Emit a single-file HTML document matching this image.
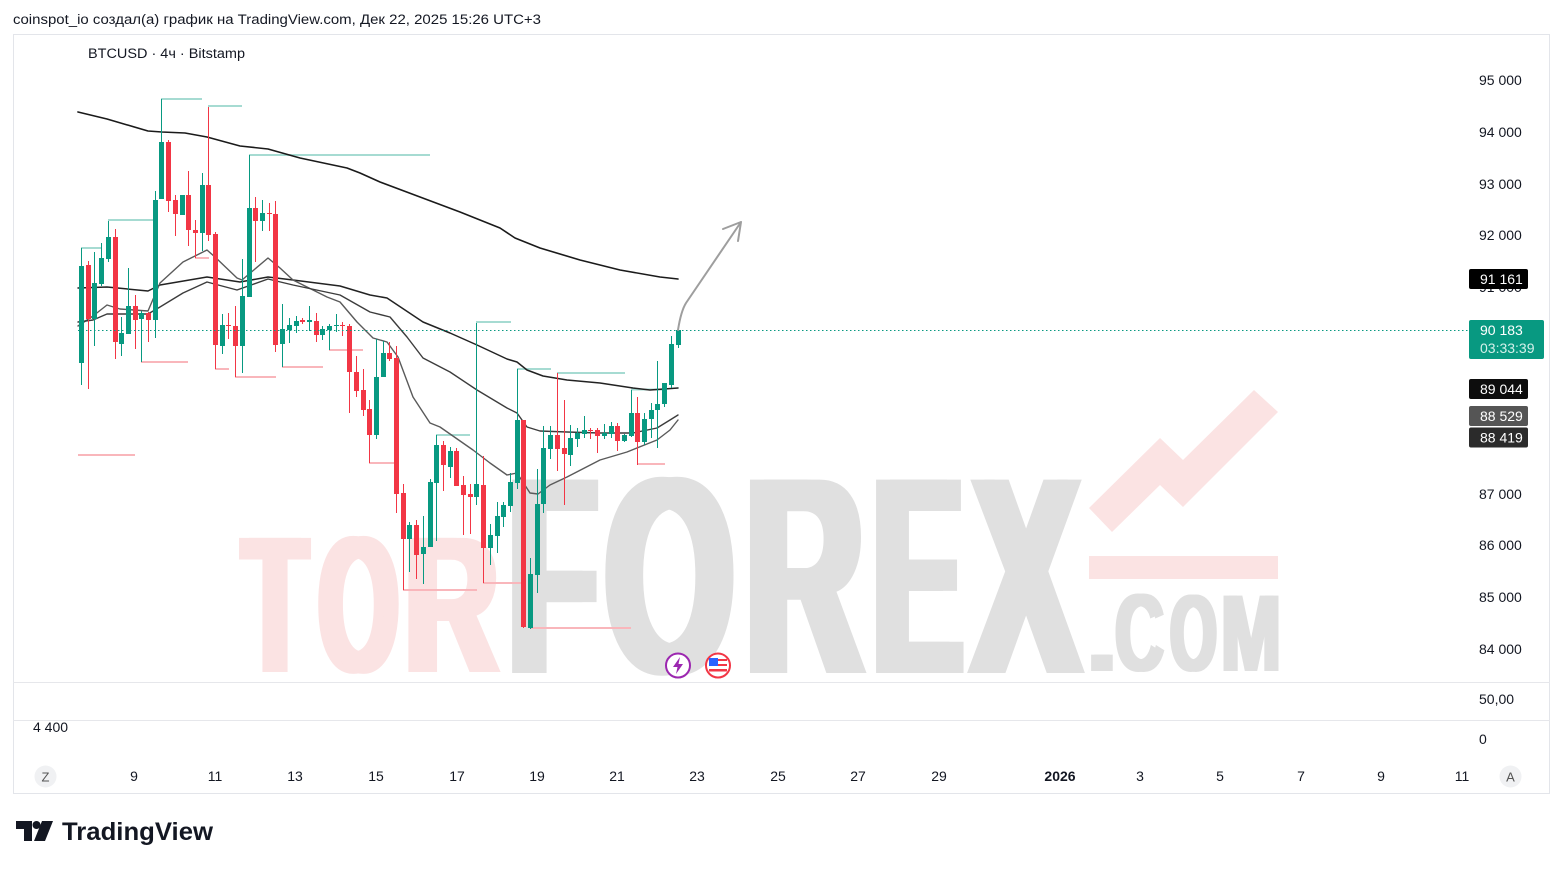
<!DOCTYPE html>
<html>
<head>
<meta charset="utf-8">
<style>
html,body{margin:0;padding:0;background:#fff;}
svg{display:block;}
text{font-family:"Liberation Sans","Noto Sans CJK SC",sans-serif;}
</style>
</head>
<body>
<svg width="1563" height="869" viewBox="0 0 1563 869" xmlns="http://www.w3.org/2000/svg">
<rect x="0" y="0" width="1563" height="869" fill="#fff"/>

<!-- header -->
<text x="13" y="24" font-size="13.5" fill="#131722" textLength="528" lengthAdjust="spacingAndGlyphs">coinspot_io создал(а) график на TradingView.com, Дек 22, 2025 15:26 UTC+3</text>

<!-- frame -->
<rect x="13.5" y="34.5" width="1536" height="759" fill="none" stroke="#e3e5ea" stroke-width="1"/>
<line x1="13" y1="682.5" x2="1550" y2="682.5" stroke="#e6e7eb" stroke-width="1"/>
<line x1="13" y1="720.5" x2="1550" y2="720.5" stroke="#e6e7eb" stroke-width="1"/>

<text x="88" y="58" font-size="13.5" fill="#131722" textLength="157" lengthAdjust="spacingAndGlyphs">BTCUSD · 4ч · Bitstamp</text>

<!-- watermark -->
<g font-weight="bold" text-anchor="middle">
  <g fill="#fbe3e3" font-size="195">
    <text transform="translate(270,672) scale(0.54,1)">T</text>
    <text transform="translate(280,672) scale(0.54,1)">T</text>
    <text transform="translate(353.5,672) scale(0.52,1)">O</text>
    <text transform="translate(363.5,672) scale(0.52,1)">O</text>
    <text transform="translate(446.5,672) scale(0.664,1)">R</text>
    <text transform="translate(456.5,672) scale(0.664,1)">R</text>
  </g>
  <g fill="#e0e0e0" font-size="281">
    <text transform="translate(546,673) scale(0.505,1)">F</text>
    <text transform="translate(560,673) scale(0.505,1)">F</text>
    <text transform="translate(662.5,673) scale(0.585,1)">O</text>
    <text transform="translate(676.5,673) scale(0.585,1)">O</text>
    <text transform="translate(797.5,673) scale(0.575,1)">R</text>
    <text transform="translate(811.5,673) scale(0.575,1)">R</text>
    <text transform="translate(911,673) scale(0.466,1)">E</text>
    <text transform="translate(925,673) scale(0.466,1)">E</text>
    <text transform="translate(1019,673) scale(0.569,1)">X</text>
    <text transform="translate(1033,673) scale(0.569,1)">X</text>
  </g>
  <g fill="#e0e0e0" font-size="110">
    <text transform="translate(1100.5,671) scale(1.2,1)">.</text>
    <text transform="translate(1103.5,671) scale(1.2,1)">.</text>
    <text transform="translate(1137,671) scale(0.61,1)">C</text>
    <text transform="translate(1142,671) scale(0.61,1)">C</text>
    <text transform="translate(1191,671) scale(0.545,1)">O</text>
    <text transform="translate(1196,671) scale(0.545,1)">O</text>
    <text transform="translate(1248.5,671) scale(0.65,1)">M</text>
    <text transform="translate(1253.5,671) scale(0.65,1)">M</text>
  </g>
</g>
<rect x="1089" y="556" width="189" height="23" fill="#fbe3e3"/>
<polygon points="1089,508 1160,438 1183,460 1254,390 1278,412 1183,507 1160,485 1112,532" fill="#fbe3e3"/>

<!-- pivot lines -->
<path d="M81 248H102M108 220H155M161 99H202M208 106H242M249 155H430M476 322H511M517 369H551M557 373H625M436 435H470M631 389.5H665" stroke="#a6dbd2" stroke-width="2" fill="none"/>
<path d="M78 455H135M141 362H188M195 258H209M215 369H229M235 377H276M282 367H323M329 350H363M369 463H396M403 590H477M483 583H523M530 628H631M637 464H665" stroke="#f9b6bb" stroke-width="2" fill="none"/>

<!-- moving averages -->
<g fill="none" stroke-linejoin="round" stroke-linecap="round">
<polyline stroke="#1a1a1a" stroke-width="1.6" points="78,112 107,119 148,131 162,132 185,133 207,137 240,146 268,149 300,158 347,168 360,173 380,182 420,197 460,212 500,228 515,238 540,248 580,260 620,270 660,277 678,279"/>
<polyline stroke="#222" stroke-width="1.5" points="78,288 107,287 148,291 160,285 207,277 240,282 268,277 293,280 340,286 370,295 387,298 423,322 450,333 477,345 507,359 517,362 527,370 543,376 567,380 600,383 633,388 650,390 678,388"/>
<polyline stroke="#5a5a5a" stroke-width="1.4" points="78,326 93,316 107,305 120,309 148,311 160,283 183,262 207,250 215,257 237,278 242,280 268,258 280,268 293,280 327,297 340,302 357,322 373,338 387,342 398,357 413,397 430,423 440,427 473,450 490,463 507,475 517,473 530,493 538,494 550,485 567,477 600,460 627,452 657,440 670,430 678,420"/>
<polyline stroke="#3c3c3c" stroke-width="1.4" points="78,322 93,320 107,314 148,314 160,307 183,293 207,282 237,290 268,279 293,285 340,295 370,312 390,317 407,337 423,358 450,372 477,390 507,408 517,413 527,427 540,431 567,432 600,433 633,433 657,428 670,420 678,415"/>
</g>

<!-- green candles -->
<path stroke="#089981" stroke-width="1" fill="none" d="M81.5 248V385M94.5 252V346M101.5 243V286M108.5 221V262M121.5 317V356M128.5 268V334M141.5 311V362M155.5 191V338M161.5 99V199M182.5 195V215M202.5 173V251M222.5 314V354M242.5 259V373M249.5 155V297M262.5 200V231M282.5 304V367M289.5 318V343M296.5 316V333M309.5 306V331M322.5 326V340M329.5 324V350M336.5 314V332M376.5 339V439M383.5 341V377M409.5 522V572M423.5 516V584M430.5 479V547M436.5 435V541M450.5 447V478M476.5 323V505M490.5 524V565M497.5 502V553M503.5 502V527M510.5 473V512M517.5 369V489M530.5 558V629M537.5 469V593M543.5 426V513M550.5 426V459M570.5 425V466M577.5 428V447M584.5 416V438M604.5 424V439M611.5 422V438M624.5 434V442M631.5 390V437M644.5 413V445M651.5 403V438M657.5 361V448M664.5 383V407M671.5 336V388M678.5 328V348"/>
<path fill="#089981" d="M79 266h5V363h-5ZM92 283h5V319h-5ZM99 258h5V284h-5ZM106 237h5V259h-5ZM119 333h5V344h-5ZM126 306h5V334h-5ZM139 313h5V319h-5ZM153 200h5V320h-5ZM159 142h5V199h-5ZM180 195h5V215h-5ZM200 185h5V233h-5ZM220 325h5V346h-5ZM240 296h5V346h-5ZM247 208h5V297h-5ZM260 213h5V221h-5ZM280 329h5V344h-5ZM287 325h5V330h-5ZM294 321h5V326h-5ZM307 320h5V322h-5ZM320 329h5V335h-5ZM327 326h5V330h-5ZM334 325h5V326h-5ZM374 377h5V435h-5ZM381 353h5V377h-5ZM407 525h5V539h-5ZM421 547h5V554h-5ZM428 482h5V547h-5ZM434 445h5V483h-5ZM448 451h5V467h-5ZM474 484h5V497h-5ZM488 535h5V548h-5ZM495 516h5V536h-5ZM501 505h5V517h-5ZM508 482h5V506h-5ZM515 420h5V483h-5ZM528 574h5V628h-5ZM535 504h5V575h-5ZM541 448h5V504h-5ZM548 435h5V449h-5ZM568 438h5V455h-5ZM575 433h5V439h-5ZM582 430h5V434h-5ZM602 433h5V436h-5ZM609 426h5V434h-5ZM622 435h5V441h-5ZM629 413h5V436h-5ZM642 419h5V442h-5ZM649 410h5V419h-5ZM655 404h5V410h-5ZM662 383h5V404h-5ZM669 344h5V385h-5ZM676 330h5V345h-5Z"/>

<!-- red candles -->
<path stroke="#f23645" stroke-width="1" fill="none" d="M88.5 261V389M115.5 229V359M135.5 295V349M148.5 312V342M168.5 140V212M175.5 195V236M188.5 171V246M195.5 220V258M208.5 107V241M215.5 232V369M228.5 313V339M235.5 306V377M255.5 197V262M269.5 203V231M275.5 201V352M302.5 318V324M316.5 313V342M342.5 322V336M349.5 324V413M356.5 356V397M363.5 369V416M369.5 400V463M389.5 342V361M396.5 346V513M403.5 484V590M416.5 520V579M443.5 441V491M456.5 448V486M463.5 476V535M470.5 484V534M483.5 456V583M523.5 420V628M557.5 373V471M564.5 400V505M590.5 428V439M597.5 428V453M617.5 423V451M637.5 397V465"/>
<path fill="#f23645" d="M86 265h5V319h-5ZM113 237h5V342h-5ZM133 306h5V320h-5ZM146 313h5V320h-5ZM166 142h5V201h-5ZM173 200h5V214h-5ZM186 195h5V230h-5ZM193 230h5V233h-5ZM206 185h5V235h-5ZM213 234h5V345h-5ZM226 325h5V326h-5ZM233 326h5V346h-5ZM253 208h5V221h-5ZM267 213h5V214h-5ZM273 214h5V345h-5ZM300 320h5V322h-5ZM314 321h5V335h-5ZM340 325h5V326h-5ZM347 326h5V372h-5ZM354 372h5V391h-5ZM361 390h5V410h-5ZM367 409h5V435h-5ZM387 353h5V359h-5ZM394 358h5V494h-5ZM401 493h5V539h-5ZM414 525h5V555h-5ZM441 445h5V465h-5ZM454 451h5V486h-5ZM461 485h5V495h-5ZM468 494h5V497h-5ZM481 485h5V548h-5ZM521 420h5V627h-5ZM555 435h5V449h-5ZM562 448h5V454h-5ZM588 430h5V431h-5ZM595 430h5V436h-5ZM615 426h5V441h-5ZM635 413h5V442h-5Z"/>

<!-- price line -->
<line x1="78" y1="330.5" x2="1468" y2="330.5" stroke="#089981" stroke-width="1" stroke-dasharray="1.5 2.5"/>

<!-- arrow -->
<path d="M678 330 Q681 311 686 303 L741 222 M723 229 L741 222 L738 241" fill="none" stroke="#9e9e9e" stroke-width="2" stroke-linecap="round" stroke-linejoin="round"/>

<!-- event icons -->
<circle cx="678" cy="665.5" r="12" fill="#fff" stroke="#9c27b0" stroke-width="2"/>
<polygon points="680,657 673,667 677.5,667 676,674 683,664 678.5,664" fill="#9c27b0"/>
<circle cx="718" cy="665.5" r="12" fill="#fff" stroke="#f23645" stroke-width="2"/>
<rect x="709" y="659" width="18" height="13" fill="#fff"/>
<rect x="709" y="659" width="18" height="2" fill="#f23645"/>
<rect x="709" y="664" width="18" height="2" fill="#f23645"/>
<rect x="709" y="669" width="18" height="2.5" fill="#f23645"/>
<rect x="709" y="658" width="9" height="8" fill="#2962ff"/>

<!-- price axis -->
<g font-size="14" fill="#131722">
<text x="1479" y="85">95 000</text>
<text x="1479" y="137">94 000</text>
<text x="1479" y="189">93 000</text>
<text x="1479" y="240">92 000</text>
<text x="1479" y="292">91 000</text>
<text x="1479" y="499">87 000</text>
<text x="1479" y="550">86 000</text>
<text x="1479" y="602">85 000</text>
<text x="1479" y="654">84 000</text>
<text x="1479" y="704">50,00</text>
<text x="1479" y="744">0</text>
<text x="33" y="732">4 400</text>
</g>

<!-- price labels -->
<g font-size="14" fill="#fff">
<rect x="1469" y="269" width="59" height="20" rx="2" fill="#000"/>
<text x="1480" y="284">91 161</text>
<rect x="1469" y="320" width="75" height="39" rx="2" fill="#089981"/>
<text x="1480" y="335">90 183</text>
<text x="1480" y="353" fill="#d4f0ea">03:33:39</text>
<rect x="1469" y="379" width="59" height="20" rx="2" fill="#0d0d0d"/>
<text x="1480" y="394">89 044</text>
<rect x="1469" y="406" width="59" height="20" rx="2" fill="#555"/>
<text x="1480" y="421">88 529</text>
<rect x="1469" y="427.5" width="59" height="20" rx="2" fill="#2b2b2b"/>
<text x="1480" y="442.5">88 419</text>
</g>

<!-- time axis -->
<circle cx="45.5" cy="776.5" r="11" fill="#f0f1f3"/>
<text x="45.5" y="781.5" font-size="13" fill="#555" text-anchor="middle">Z</text>
<circle cx="1510.5" cy="776.5" r="11" fill="#f0f1f3"/>
<text x="1510.5" y="781.5" font-size="13" fill="#555" text-anchor="middle">A</text>
<g font-size="14" fill="#131722" text-anchor="middle">
<text x="134" y="781">9</text>
<text x="215" y="781">11</text>
<text x="295" y="781">13</text>
<text x="376" y="781">15</text>
<text x="457" y="781">17</text>
<text x="537" y="781">19</text>
<text x="617" y="781">21</text>
<text x="697" y="781">23</text>
<text x="778" y="781">25</text>
<text x="858" y="781">27</text>
<text x="939" y="781">29</text>
<text x="1060" y="781" font-weight="bold">2026</text>
<text x="1140" y="781">3</text>
<text x="1220" y="781">5</text>
<text x="1301" y="781">7</text>
<text x="1381" y="781">9</text>
<text x="1462" y="781">11</text>
</g>

<!-- TradingView logo -->
<rect x="16" y="821" width="16" height="8" fill="#131722"/>
<rect x="24" y="821" width="8" height="20" fill="#131722"/>
<circle cx="36.5" cy="825" r="4" fill="#131722"/>
<polygon points="42,821 53,821 45,841 34,841" fill="#131722"/>
<text x="62" y="840" font-size="25" font-weight="bold" fill="#131722" textLength="151" lengthAdjust="spacingAndGlyphs">TradingView</text>
</svg>
</body>
</html>
